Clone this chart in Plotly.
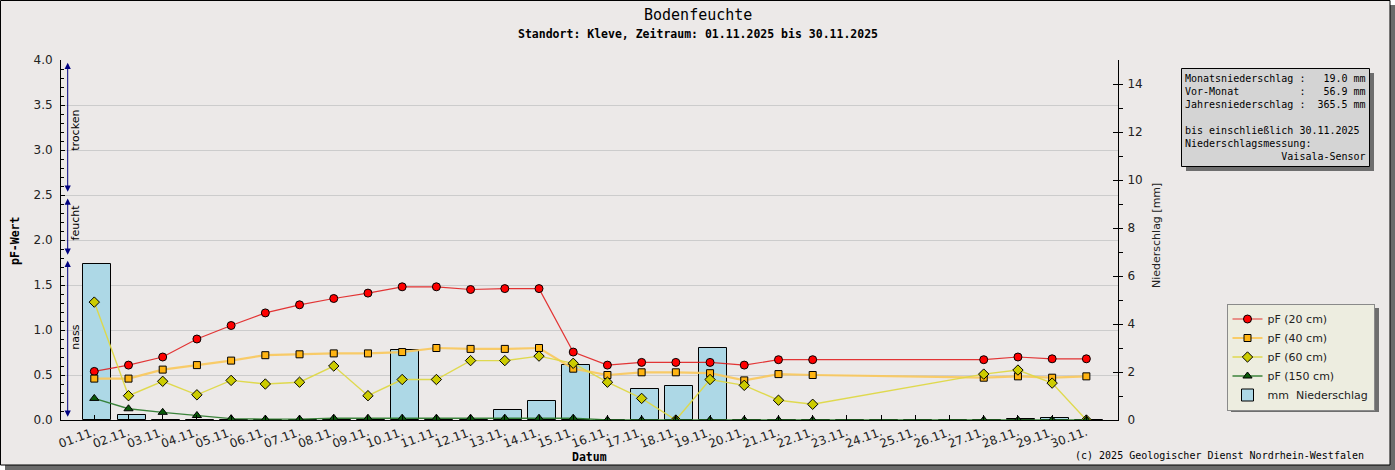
import plotly.graph_objects as go
import pandas as pd

# ---------------- data ----------------
tage = ["2025-11-01", "2025-11-02", "2025-11-03", "2025-11-04", "2025-11-05",
        "2025-11-06", "2025-11-07", "2025-11-08", "2025-11-09", "2025-11-10",
        "2025-11-11", "2025-11-12", "2025-11-13", "2025-11-14", "2025-11-15",
        "2025-11-16", "2025-11-17", "2025-11-18", "2025-11-19", "2025-11-20",
        "2025-11-21", "2025-11-22", "2025-11-23", "2025-11-24", "2025-11-25",
        "2025-11-26", "2025-11-27", "2025-11-28", "2025-11-29", "2025-11-30"]

pf20 = [0.54, 0.61, 0.70, 0.90, 1.05, 1.19, 1.28, 1.35, 1.41, 1.48,
        1.48, 1.45, 1.46, 1.46, 0.755, 0.61, 0.64, 0.64, 0.64, 0.61,
        0.67, 0.67, None, None, None, None, 0.67, 0.70, 0.68, 0.68]
pf40 = [0.46, 0.46, 0.56, 0.61, 0.66, 0.72, 0.73, 0.74, 0.74, 0.755,
        0.80, 0.79, 0.79, 0.80, 0.57, 0.50, 0.53, 0.53, 0.52, 0.44,
        0.51, 0.50, None, None, None, None, 0.47, 0.485, 0.47, 0.485]
pf60 = [1.31, 0.27, 0.43, 0.28, 0.44, 0.40, 0.42, 0.60, 0.27, 0.45,
        0.45, 0.66, 0.66, 0.71, 0.63, 0.42, 0.24, 0.00, 0.45, 0.385,
        0.22, 0.175, None, None, None, None, 0.51, 0.555, 0.41, 0.00]
pf150 = [0.24, 0.125, 0.085, 0.05, 0.015, 0.01, 0.01, 0.02, 0.02, 0.02,
         0.02, 0.02, 0.02, 0.02, 0.02, 0.00, 0.00, 0.00, 0.00, 0.00,
         0.00, 0.00, None, None, None, None, 0.00, 0.00, 0.00, 0.00]
niederschlag = [6.5, 0.2, 0.0, 0.0, 0.0, 0.0, 0.0, 0.0, 0.0, 2.9,
                0.0, 0.0, 0.4, 0.8, 2.3, 0.0, 1.3, 1.4, 3.0, 0.0,
                0.0, 0.0, 0.0, 0.0, 0.0, 0.0, 0.0, 0.03, 0.1, 0.0]

serien_namen = ["pF (20 cm)", "pF (40 cm)", "pF (60 cm)", "pF (150 cm)", "mm\u00a0 Niederschlag"]
info_zeilen = ["Monatsniederschlag :   19.0 mm",
               "Vor-Monat          :   56.9 mm",
               "Jahresniederschlag :  365.5 mm",
               "",
               "bis einschließlich 30.11.2025",
               "Niederschlagsmessung:",
               "                Vaisala-Sensor"]
zonen = [("trocken", 2.52, 3.97, 3.22), ("feucht", 1.82, 2.46, 2.19), ("nass", 0.02, 1.77, 0.92)]

# ---------------- geometry helpers ----------------
W, H = 1395, 470
L, R, T, B = 61, 1118, 60, 420
def px(xpix):
    return (xpix - L) / (R - L)
def py(ypix):
    return (B - ypix) / (B - T)

DAY = 86400000
t0 = pd.Timestamp("2025-11-01")
x_range = [t0 - pd.Timedelta(days=0.973), t0 + pd.Timedelta(days=29.925)]

MONO = "DejaVu Sans Mono"
SANS = "DejaVu Sans"

fig = go.Figure()

fig.add_trace(go.Bar(
    x=tage, y=niederschlag, name=serien_namen[4], yaxis="y",
    width=0.82 * DAY, offset=-0.32 * DAY,
    marker=dict(color="#ADD8E6", line=dict(color="black", width=1)),
    legendrank=5,
))

line_specs = [
    (pf20, serien_namen[0], "rgba(225,20,20,0.85)", 1.2, "circle", 8, "#FF0000"),
    (pf40, serien_namen[1], "rgba(250,200,90,0.9)", 2.2, "square", 7, "#FFB412"),
    (pf60, serien_namen[2], "rgba(222,216,70,0.95)", 1.4, "diamond", 8, "#CCCC00"),
    (pf150, serien_namen[3], "rgba(40,120,40,0.9)", 1.4, "triangle-up", 8, "#0A5A0A"),
]
for i, (vals, name, lc, lw, sym, ms, mc) in enumerate(line_specs):
    fig.add_trace(go.Scatter(
        x=tage, y=vals, name=name, yaxis="y2", mode="lines+markers",
        connectgaps=True,
        line=dict(color=lc, width=lw),
        marker=dict(symbol=sym, size=ms, color=mc, line=dict(color="black", width=1)),
        legendrank=i + 1,
    ))

LEG_X, LEG_Y = 1226, 303          # legend top-left (px)
LEG_W, LEG_H = 148, 104           # approx. rendered legend size (px)

shapes = [
    # outer frame shadow + frame
    dict(type="rect", xref="paper", yref="paper", layer="below",
         x0=px(5), x1=px(1395), y0=py(470), y1=py(5),
         fillcolor="#6B6B6B", line=dict(width=0)),
    dict(type="rect", xref="paper", yref="paper", layer="below",
         x0=px(0.5), x1=px(1390), y0=py(465), y1=py(0.5),
         fillcolor="#ECE9E8", line=dict(color="black", width=1)),
    # info box
    dict(type="rect", xref="paper", yref="paper", layer="below",
         x0=px(1186), x1=px(1374), y0=py(171), y1=py(73),
         fillcolor="#6E6E6E", line=dict(width=0)),
    dict(type="rect", xref="paper", yref="paper", layer="below",
         x0=px(1181.5), x1=px(1369.5), y0=py(166.5), y1=py(68.5),
         fillcolor="#D4D4D4", line=dict(color="black", width=1)),
    # legend shadow
    dict(type="rect", xref="paper", yref="paper", layer="below",
         x0=px(LEG_X + 5), x1=px(LEG_X + LEG_W + 5), y0=py(LEG_Y + LEG_H + 5), y1=py(LEG_Y + 5),
         fillcolor="#6E6E6E", line=dict(width=0)),
]

def ann(text, xp, yp, xa="center", ya="middle", **kw):
    d = dict(text=text, xref="paper", yref="paper", x=px(xp), y=py(yp),
             xanchor=xa, yanchor=ya, showarrow=False)
    d.update(kw)
    return d

annotations = [
    ann("Bodenfeuchte", 698, 15, font=dict(family=MONO, size=15, color="black")),
    ann("<b>Standort: Kleve, Zeitraum: 01.11.2025 bis 30.11.2025</b>", 698, 34,
        font=dict(family=MONO, size=11.5, color="black")),
    ann("<b>pF-Wert</b>", 15, 241, textangle=-90, font=dict(family=MONO, size=11.5, color="black")),
    ann("Niederschlag [mm]", 1156, 236, textangle=-90, font=dict(family=SANS, size=11, color="#222")),
    ann("<b>Datum</b>", 589.5, 457, font=dict(family=MONO, size=11.5, color="black")),
    ann("(c) 2025 Geologischer Dienst Nordrhein-Westfalen", 1366, 455, xa="right",
        font=dict(family=MONO, size=10, color="black")),
    ann("<br>".join(z.replace(" ", "\u00a0") if z else "\u00a0" for z in info_zeilen),
        1183, 71, xa="left", ya="top", align="left",
        font=dict(family=MONO, size=10, color="black")),
]

for label, lo, hi, mid in zonen:
    annotations.append(dict(
        text="", xref="paper", yref="y2", x=px(67.7), y=hi,
        axref="pixel", ax=0, ayref="y2", ay=lo,
        showarrow=True, arrowside="end+start", arrowhead=2, arrowsize=1.25,
        arrowwidth=1, arrowcolor="#000080", standoff=0, startstandoff=0))
    annotations.append(dict(
        text=label, xref="paper", yref="y2", x=px(75.5), y=mid, textangle=-90,
        xanchor="center", yanchor="middle",
        showarrow=False, font=dict(family=SANS, size=11, color="black")))

fig.update_layout(
    width=W, height=H,
    margin=dict(l=L, r=W - R, t=T, b=H - B, pad=0),
    paper_bgcolor="white", plot_bgcolor="white",
    showlegend=True, barmode="overlay", bargap=0,
    font=dict(family=SANS, size=12, color="#222"),
    xaxis=dict(type="date", range=x_range, tick0="2025-11-01", dtick=DAY,
               tickformat="%d.%m.", tickangle=-20, ticks="inside", ticklen=5,
               tickcolor="black", showline=True, linecolor="black", linewidth=1,
               showgrid=False, zeroline=False, tickfont=dict(family=SANS, size=12, color="#222")),
    yaxis=dict(side="right", range=[0, 15], dtick=2, ticks="inside", ticklen=5,
               tickcolor="black", showline=True, linecolor="black", linewidth=1,
               showgrid=False, zeroline=False, ticklabelstandoff=6,
               minor=dict(dtick=1, ticks="outside", ticklen=4, tickcolor="black", showgrid=False),
               tickfont=dict(family=SANS, size=12, color="#222")),
    yaxis2=dict(side="left", overlaying="y", anchor="x", range=[0, 4], dtick=0.5,
                tickformat=".1f", ticks="inside", ticklen=4, tickcolor="black",
                showline=True, linecolor="black", linewidth=1, ticklabelstandoff=5,
                showgrid=True, gridcolor="#CCCCCC", gridwidth=1, zeroline=False,
                minor=dict(dtick=0.1, ticks="inside", ticklen=3, tickcolor="black", showgrid=False),
                tickfont=dict(family=SANS, size=12, color="#222")),
    legend=dict(x=px(LEG_X + 0.5), y=py(LEG_Y + 0.5), xanchor="left", yanchor="top",
                bgcolor="#EDEDE0", bordercolor="#8A8A8A", borderwidth=1,
                font=dict(family=SANS, size=11, color="#222"), traceorder="normal"),
    shapes=shapes, annotations=annotations,
)

fig.write_html("out.html", config={"displayModeBar": False},
               post_script="document.body.style.margin='0';document.body.style.overflow='hidden';")
